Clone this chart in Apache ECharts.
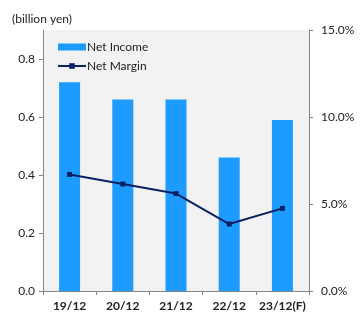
<!DOCTYPE html>
<html><head><meta charset="utf-8">
<script src="https://cdn.jsdelivr.net/npm/echarts@6/dist/echarts.min.js"></script>
<style>html,body{margin:0;padding:0;background:#fff}#c{width:363px;height:331px}</style>
</head><body><div id="c"></div>
<script>
const categories = ['19/12', '20/12', '21/12', '22/12', '23/12(F)'];
const netIncome = [0.72, 0.66, 0.66, 0.46, 0.59];
const netMargin = [6.7, 6.15, 5.6, 3.85, 4.75];
const leftTicks = [0, 0.2, 0.4, 0.6, 0.8];
const font = 'Lato';
const chart = echarts.init(document.getElementById('c'));
chart.setOption({
  animation: false,
  textStyle: { fontFamily: font },
  title: { text: '(billion yen)', left: 7, top: 8, textStyle: { fontSize: 12, fontWeight: 'normal', color: '#222', fontFamily: font } },
  legend: {
    left: 52, top: 35, orient: 'vertical', itemGap: 5, itemWidth: 28, itemHeight: 7,
    textStyle: { fontSize: 12, color: '#222', fontFamily: font, padding: [0, 0, 0, -4], lineHeight: 14 },
    data: [{ name: 'Net Income', icon: 'rect' }, { name: 'Net Margin' }]
  },
  grid: { left: 43, right: 54, top: 30, bottom: 40, show: true, backgroundColor: '#f2f2f2', borderWidth: 0 },
  xAxis: {
    type: 'category', data: categories, boundaryGap: true,
    axisLine: { lineStyle: { color: '#868686' } },
    axisTick: { show: true, length: 4, lineStyle: { color: '#868686' } },
    axisLabel: { interval: 0, fontSize: 12, fontWeight: 'bold', color: '#222', margin: 9, fontFamily: font }
  },
  yAxis: [{
    type: 'value', min: 0, max: 0.9, position: 'left',
    axisLine: { show: true, lineStyle: { color: '#868686' } },
    axisTick: { show: true, length: 4, customValues: leftTicks, lineStyle: { color: '#868686' } },
    axisLabel: { fontSize: 12, color: '#222', margin: 8, customValues: leftTicks, formatter: v => v.toFixed(1), fontFamily: font },
    splitLine: { show: false }
  }, {
    type: 'value', min: 0, max: 15, interval: 5, position: 'right',
    axisLine: { show: true, lineStyle: { color: '#868686' } },
    axisTick: { show: true, length: 4, lineStyle: { color: '#868686' } },
    axisLabel: { fontSize: 12, color: '#222', margin: 12, formatter: v => v.toFixed(1) + '%', fontFamily: font },
    splitLine: { show: false }
  }],
  series: [{
    name: 'Net Income', type: 'bar', data: netIncome, barWidth: 21, itemStyle: { color: '#1e9bff' }
  }, {
    name: 'Net Margin', type: 'line', yAxisIndex: 1, data: netMargin,
    symbol: 'rect', symbolSize: 5, itemStyle: { color: '#0b2165' }, lineStyle: { color: '#0b2165', width: 2 }
  }]
});
</script></body></html>
